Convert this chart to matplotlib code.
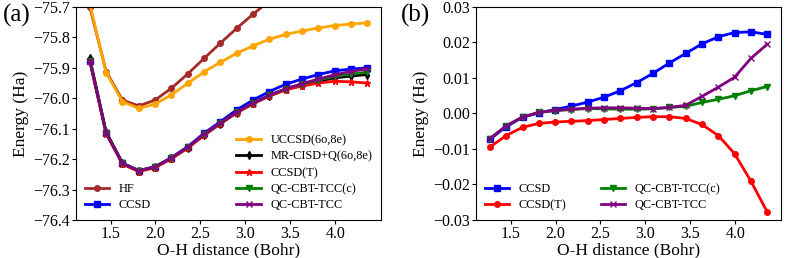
import numpy as np
import matplotlib
matplotlib.use("Agg")
import matplotlib.pyplot as plt

plt.rcParams['font.family'] = ['Liberation Serif', 'DejaVu Serif']

# ------------------------------------------------
# Data (O-H distance in Bohr, energies in Ha)
# ------------------------------------------------
r_oh = [1.270, 1.451, 1.633, 1.814, 1.995, 2.177, 2.358, 2.540, 2.721,
        2.903, 3.084, 3.265, 3.447, 3.628, 3.810, 3.991, 4.172, 4.354]

e_hf = [-75.700, -75.912, -76.006, -76.025, -76.006, -75.967, -75.920, -75.869, -75.819,
        -75.770, -75.724, -75.680, -75.640, -75.603, -75.570, -75.540, -75.515, -75.492]
e_uccsd = [-75.690, -75.916, -76.011, -76.033, -76.019, -75.989, -75.951, -75.913, -75.882,
           -75.852, -75.828, -75.806, -75.790, -75.779, -75.769, -75.761, -75.756, -75.752]
e_mrci = [-75.869, -76.110, -76.213, -76.238, -76.226, -76.197, -76.162, -76.120, -76.083,
          -76.047, -76.017, -75.992, -75.971, -75.957, -75.944, -75.933, -75.927, -75.922]
e_ccsd = [-75.876, -76.114, -76.214, -76.238, -76.225, -76.195, -76.159, -76.115, -76.077,
          -76.038, -76.006, -75.978, -75.954, -75.937, -75.922, -75.910, -75.904, -75.900]
e_ccsdt = [-75.879, -76.116, -76.217, -76.241, -76.228, -76.199, -76.164, -76.122, -76.084,
           -76.048, -76.018, -75.993, -75.972, -75.960, -75.950, -75.944, -75.946, -75.950]
e_tccc = [-75.876, -76.114, -76.214, -76.238, -76.225, -76.196, -76.161, -76.119, -76.082,
          -76.046, -76.016, -75.990, -75.969, -75.954, -75.940, -75.928, -75.921, -75.914]
e_tcc = [-75.876, -76.114, -76.214, -76.238, -76.225, -76.196, -76.161, -76.118, -76.081,
         -76.046, -76.016, -75.990, -75.969, -75.952, -75.937, -75.923, -75.912, -75.903]

# errors relative to MR-CISD+Q(6o,8e)
d_ccsd = [-0.0073, -0.0037, -0.0011, 0.0002, 0.0011, 0.0021, 0.0032, 0.0046, 0.0064,
          0.0087, 0.0113, 0.0142, 0.0169, 0.0196, 0.0216, 0.0228, 0.0230, 0.0223]
d_ccsdt = [-0.0095, -0.0062, -0.0039, -0.0028, -0.0024, -0.0022, -0.0020, -0.0017, -0.0014,
           -0.0011, -0.0009, -0.0009, -0.0014, -0.0031, -0.0062, -0.0113, -0.0190, -0.0277]
d_tccc = [-0.0071, -0.0035, -0.0010, 0.0003, 0.0008, 0.0011, 0.0014, 0.0013, 0.0012,
          0.0012, 0.0013, 0.0017, 0.0020, 0.0031, 0.0040, 0.0050, 0.0064, 0.0076]
d_tcc = [-0.0071, -0.0035, -0.0010, 0.0003, 0.0009, 0.0012, 0.0015, 0.0016, 0.0016,
         0.0015, 0.0014, 0.0017, 0.0023, 0.0048, 0.0074, 0.0102, 0.0155, 0.0195]

yt_a = [-76.4, -76.3, -76.2, -76.1, -76.0, -75.9, -75.8, -75.7]
yt_b = [-0.03, -0.02, -0.01, 0.00, 0.01, 0.02, 0.03]
xt = [1.5, 2.0, 2.5, 3.0, 3.5, 4.0]

tick_fs = 11.5
label_fs = 12.5
leg_fs = 8.8
lw = 2

fig = plt.figure(figsize=(7.89, 2.58), dpi=100)
ax1 = fig.add_axes([0.0963, 0.1473, 0.3866, 0.8256])
ax2 = fig.add_axes([0.6033, 0.1473, 0.3866, 0.8256])

# ------------------------------------------------
# (a) absolute energies
# ------------------------------------------------
l_hf, = ax1.plot(r_oh, e_hf, color='brown', marker='o', ms=4, lw=lw, label='HF')
l_ccsd, = ax1.plot(r_oh, e_ccsd, color='blue', marker='s', ms=4.5, lw=lw, label='CCSD')
l_ucc, = ax1.plot(r_oh, e_uccsd, color='orange', marker='o', ms=4, lw=lw, label='UCCSD(6o,8e)')
l_mr, = ax1.plot(r_oh, e_mrci, color='black', marker='d', ms=4, lw=lw, label='MR-CISD+Q(6o,8e)')
l_t, = ax1.plot(r_oh, e_ccsdt, color='red', marker='*', ms=5, lw=lw, label='CCSD(T)')
l_tc, = ax1.plot(r_oh, e_tccc, color='green', marker='v', ms=4, lw=lw, label='QC-CBT-TCC(c)')
l_tcc, = ax1.plot(r_oh, e_tcc, color='purple', marker='x', ms=4, lw=lw, label='QC-CBT-TCC')

ax1.set_ylim(-76.4, -75.7)
ax1.set_yticks(yt_a)
ax1.set_yticklabels([f"{v:.1f}".replace('-', '\u2212') for v in yt_a])
ax1.set_ylabel("Energy (Ha)", fontsize=label_fs, labelpad=3)

leg1 = ax1.legend(handles=[l_hf, l_ccsd], loc='lower left', frameon=False,
                  fontsize=leg_fs, labelspacing=0.35, borderaxespad=0.3)
ax1.add_artist(leg1)
ax1.legend(handles=[l_ucc, l_mr, l_t, l_tc, l_tcc], loc='lower right', frameon=False,
           fontsize=leg_fs, labelspacing=0.35, borderaxespad=0.3)

# ------------------------------------------------
# (b) errors vs MR-CISD+Q
# ------------------------------------------------
ax2.plot(r_oh, d_ccsd, color='blue', marker='s', ms=4.5, lw=lw, label='CCSD')
ax2.plot(r_oh, d_ccsdt, color='red', marker='o', ms=4, lw=lw, label='CCSD(T)')
ax2.plot(r_oh, d_tccc, color='green', marker='v', ms=4, lw=lw, label='QC-CBT-TCC(c)')
ax2.plot(r_oh, d_tcc, color='purple', marker='x', ms=4, lw=lw, label='QC-CBT-TCC')

ax2.set_ylim(-0.03, 0.03)
ax2.set_yticks(yt_b)
ax2.set_yticklabels([f"{v:.2f}".replace('-', '\u2212') for v in yt_b])
ax2.set_ylabel("Energy (Ha)", fontsize=label_fs, labelpad=3)
ax2.legend(loc='lower left', ncol=2, frameon=False, fontsize=leg_fs,
           labelspacing=0.35, borderaxespad=0.3, columnspacing=2.8)

for ax in (ax1, ax2):
    ax.set_xticks(xt)
    ax.set_xlabel("O-H distance (Bohr)", fontsize=label_fs, labelpad=0)
    ax.tick_params(labelsize=tick_fs, pad=1.5, length=3)

fig.text(0.004, 0.985, "(a)", fontsize=18, va='top')
fig.text(0.508, 0.985, "(b)", fontsize=18, va='top')

fig.savefig("out.png", dpi=100)
